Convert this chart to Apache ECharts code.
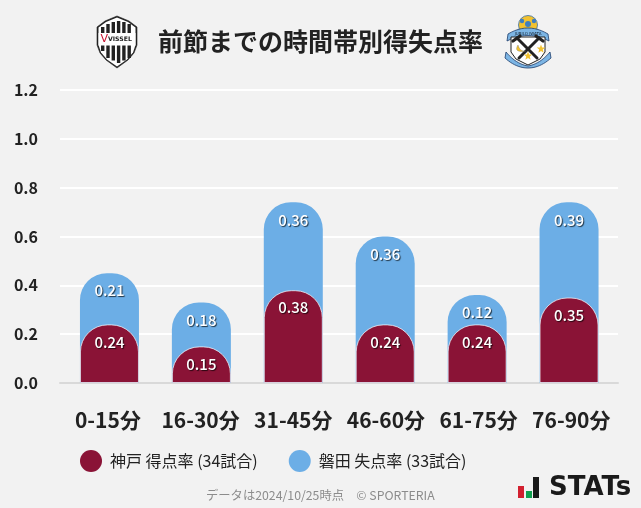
<!DOCTYPE html>
<html><head><meta charset="utf-8">
<style>html,body{margin:0;padding:0;background:#f2f2f2}#c{width:641px;height:508px}</style>
<script src="https://cdn.jsdelivr.net/npm/echarts@6/dist/echarts.min.js"></script>
</head><body><div id="c"></div>
<script>
const categories = ['0-15分','16-30分','31-45分','46-60分','61-75分','76-90分'];
const homeValues = [0.24,0.15,0.38,0.24,0.24,0.35];
const awayValues = [0.21,0.18,0.36,0.36,0.12,0.39];
const homeName = '神戸 得点率 (34試合)';
const awayName = '磐田 失点率 (33試合)';
const titleText = '前節までの時間帯別得失点率';
const noteText = 'データは2024/10/25時点　© SPORTERIA';
const font = '"Noto Sans CJK JP","Noto Sans",sans-serif';
const RED = '#8a1336', BLUE = '#6caee6';
const chart = echarts.init(document.getElementById('c'), null, {renderer:'canvas'});
const label = {show:true, position:'insideTop', distance:10, color:'#fff', fontFamily:font, fontSize:15, fontWeight:500,
  textShadowColor:'rgba(0,0,0,0.7)', textShadowBlur:1, textShadowOffsetX:1, textShadowOffsetY:1};

const R = (x,y,w,h,fill,z) => ({type:'rect',shape:{x,y,width:w,height:h},style:{fill},z:z||10});
const C = (cx,cy,r,fill,stroke,lw,z) => ({type:'circle',shape:{cx,cy,r},style:{fill,stroke:stroke||null,lineWidth:lw||0},z:z||10});
const T = (x,y,text,size,fill,weight,align,z) => ({type:'text',x,y,style:{text,font:(weight||'normal')+' '+size+'px "DejaVu Sans"',fill,textAlign:align||'left',textVerticalAlign:'middle'},z:z||12});
const poly = (pts,fill,stroke,lw,z) => ({type:'polygon',shape:{points:pts},style:{fill:fill||'none',stroke:stroke||null,lineWidth:lw||0},z:z||10});
const line = (x1,y1,x2,y2,c,w,z) => ({type:'line',shape:{x1,y1,x2,y2},style:{stroke:c,lineWidth:w,lineCap:'round'},z:z||10});
const star = (cx,cy,r,fill,z) => {const p=[];for(let i=0;i<10;i++){const a=-Math.PI/2+i*Math.PI/5,q=i%2?r*0.42:r;p.push([cx+q*Math.cos(a),cy+q*Math.sin(a)]);}return poly(p,fill,null,0,z);};
const q = (a,c,b) => {const p=[];for(let i=0;i<=12;i++){const t=i/12,u=1-t;p.push([u*u*a[0]+2*u*t*c[0]+t*t*b[0],u*u*a[1]+2*u*t*c[1]+t*t*b[1]]);}return p;};

const shieldPts = [[97,27],[105,21],[117,16],[129,21],[137,27],[137,45],[134,53],[128,60],[117,68],[106,60],[100,53],[97,45]];
const vissel = [
  poly(shieldPts,'#222','#222',0.6),
  poly([[98.5,27.5],[106,22],[117,17.5],[128,22],[135.5,27.5],[135.5,45],[133,52.5],[127,59.5],[117,66.5],[107,59.5],[101,52.5],[98.5,45]],'#fff',null,0,11),
  ...[101,106.3,111.6,116.9,122.2,127.5].map((x,i)=>R(x,[27,24,22,21,22,24][i],3.4,[24,34,38.5,42,38.5,34][i],'#222',12)),
  R(98.5,33,37,12.5,'#fff',13),
  T(100.5,39.5,'V',11,'#c8102e','normal','left',14),
  T(108,39.5,'VISSEL',6.2,'#222','bold','left',14)
];
const jubilo = [
  C(528,25,9.5,'#f2c230','#3a6ea5',0.8),
  C(528,24,3,'#3f7fc0'), C(522,21,2.2,'#3f7fc0'), C(534,21,2.2,'#3f7fc0'),
  poly([...q([508,34],[528,22],[548,34]),...q([549,41],[528,30],[507,41])],'#7cb5e4','#1c3c6c',0.8),
  T(528,33.5,'JUBILO IWATA',4,'#123','normal','center'),
  poly([[511,37],[545,37],[545,52],[540,59],[528,65],[516,59],[511,52]],'#fff','#222',1),
  poly([...q([506,52],[516,64],[528,66]),...q([528,66],[540,64],[550,52]),...q([551,58],[540,68],[528,68]),...q([528,68],[516,68],[505,58])],'#7cb5e4','#1c3c6c',0.8,11),
  line(517,38,537,58,'#222',3,12), line(539,38,519,58,'#222',3,12),
  line(513,41,520,36,'#222',3.2,12), line(536,36,543,41,'#222',3.2,12),
  poly([...q([518,45],[513,53],[526,51]),...q([526,51],[520,52],[518,45])],'#f2c230','#555',0.3,13),
  star(541,49,4.5,'#f2c230',13),
  star(528,56,4.5,'#f2c230',13)
];
const stats = [
  R(518,486,6,12,'#d2202f'), R(526,491,6,7,'#12a150'), R(533,477,6,21,'#1a1a1a'),
  {type:'text',x:549,y:488,style:{text:'STATs',font:'bold 26px "DejaVu Sans"',fill:'#1a1a1a',textAlign:'left',textVerticalAlign:'middle'},z:12}
];

chart.setOption({
  animation:false,
  backgroundColor:'#f2f2f2',
  title:{text:titleText,left:320.5,top:29,textAlign:'center',padding:0,textStyle:{fontFamily:font,fontSize:25,fontWeight:700,color:'#222'}},
  legend:{left:80,top:450,padding:0,itemWidth:22,itemHeight:22,itemGap:31,icon:'circle',selectedMode:false,
    itemStyle:{borderWidth:0},
    data:[homeName,awayName],textStyle:{fontFamily:font,fontSize:16,color:'#222',padding:[0,0,0,3]}},
  grid:[{left:60,width:558,top:90,height:293},{left:63.5,width:551.5,top:90,height:293},{left:61.6,width:556,top:90,height:293}],
  xAxis:[
    {type:'value',gridIndex:0,min:0,max:1,axisLine:{show:true,onZero:false,lineStyle:{color:'#d9d9d9',width:2}},axisTick:{show:false},axisLabel:{show:false},splitLine:{show:false}},
    {type:'category',gridIndex:1,data:categories,axisLine:{show:false},axisTick:{show:false},axisLabel:{show:false}},
    {type:'category',gridIndex:2,data:categories,axisLine:{show:false},axisTick:{show:false},
     axisLabel:{fontFamily:font,fontSize:21,fontWeight:700,color:'#222',margin:27,interval:0}}
  ],
  yAxis:[
    {type:'value',gridIndex:0,min:0,max:1.2,interval:0.2,axisLine:{show:false},axisTick:{show:false},
     splitLine:{lineStyle:{color:'#fff',width:2}},
     axisLabel:{fontFamily:font,fontSize:16,fontWeight:700,color:'#222',margin:22,padding:[0,0,8,0],formatter:v=>v.toFixed(1)}},
    {type:'value',gridIndex:1,min:0,max:1.2,interval:0.2,show:false},
    {type:'value',gridIndex:2,min:0,max:1.2,interval:0.2,show:false}
  ],
  series:[
    {name:awayName,type:'bar',xAxisIndex:1,yAxisIndex:1,barWidth:59,barGap:'-100%',z:2,
     data:awayValues.map((v,i)=>({value:+(v+homeValues[i]).toFixed(2),raw:v})),
     itemStyle:{color:BLUE,borderRadius:[27,27,0,0]},
     label:{...label,formatter:p=>p.data.raw.toFixed(2)}},
    {name:homeName,type:'bar',xAxisIndex:1,yAxisIndex:1,barWidth:59,z:3,
     data:homeValues,
     itemStyle:{color:RED,borderRadius:[27,27,0,0],borderColor:'rgba(255,255,255,0.7)',borderWidth:1},
     label:{...label,formatter:p=>p.value.toFixed(2)}}
  ],
  graphic:[
    {type:'text',x:206,y:489,style:{text:noteText,font:'12.3px '+font,fill:'#8c8c8c'}},
    ...vissel,...jubilo,...stats
  ]
});
</script></body></html>
